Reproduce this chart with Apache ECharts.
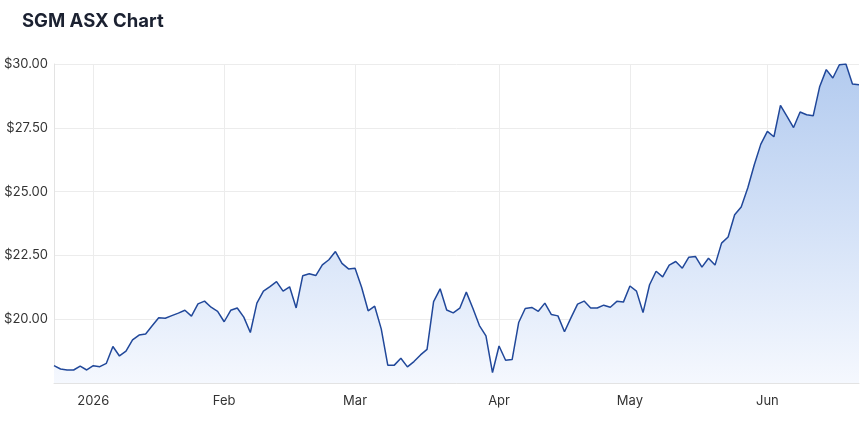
<!DOCTYPE html>
<html>
<head>
<meta charset="utf-8">
<script src="https://cdn.jsdelivr.net/npm/echarts@6/dist/echarts.min.js"></script>
<style>
  html, body { margin:0; padding:0; background:#fff; }
  #chart { width:868px; height:424px; }
</style>
</head>
<body>
<div id="chart"></div>
<script>
// ASX trading days shown on the chart
const dates = [
  '2025-12-22','2025-12-23','2025-12-24','2025-12-29','2025-12-30','2025-12-31',
  '2026-01-02','2026-01-05','2026-01-06','2026-01-07','2026-01-08','2026-01-09','2026-01-12','2026-01-13','2026-01-14','2026-01-15',
  '2026-01-16','2026-01-19','2026-01-20','2026-01-21','2026-01-22','2026-01-23','2026-01-27','2026-01-28','2026-01-29','2026-01-30',
  '2026-02-02','2026-02-03','2026-02-04','2026-02-05','2026-02-06','2026-02-09','2026-02-10','2026-02-11','2026-02-12','2026-02-13',
  '2026-02-16','2026-02-17','2026-02-18','2026-02-19','2026-02-20','2026-02-23','2026-02-24','2026-02-25','2026-02-26','2026-02-27',
  '2026-03-02','2026-03-03','2026-03-04','2026-03-05','2026-03-06','2026-03-09','2026-03-10','2026-03-11','2026-03-12','2026-03-13',
  '2026-03-16','2026-03-17','2026-03-18','2026-03-19','2026-03-20','2026-03-23','2026-03-24','2026-03-25','2026-03-26','2026-03-27',
  '2026-03-30','2026-03-31',
  '2026-04-01','2026-04-02','2026-04-07','2026-04-08','2026-04-09','2026-04-10','2026-04-13','2026-04-14','2026-04-15','2026-04-16',
  '2026-04-17','2026-04-20','2026-04-21','2026-04-22','2026-04-23','2026-04-24','2026-04-27','2026-04-28','2026-04-29','2026-04-30',
  '2026-05-01','2026-05-04','2026-05-05','2026-05-06','2026-05-07','2026-05-08','2026-05-11','2026-05-12','2026-05-13','2026-05-14',
  '2026-05-15','2026-05-18','2026-05-19','2026-05-20','2026-05-21','2026-05-22','2026-05-25','2026-05-26','2026-05-27','2026-05-28',
  '2026-05-29',
  '2026-06-01','2026-06-02','2026-06-03','2026-06-04','2026-06-05','2026-06-09','2026-06-10','2026-06-11','2026-06-12','2026-06-15',
  '2026-06-16','2026-06-17','2026-06-18','2026-06-19','2026-06-22'
];

// closing prices (AUD)
const prices = [
  18.18,18.05,18.01,18.01,18.16,18.01,
  18.18,18.14,18.27,18.93,18.56,18.75,19.19,19.38,19.42,19.74,
  20.06,20.04,20.14,20.24,20.35,20.12,20.60,20.71,20.47,20.31,
  19.90,20.35,20.44,20.08,19.48,20.63,21.10,21.28,21.47,21.10,
  21.27,20.44,21.70,21.78,21.71,22.13,22.33,22.65,22.19,21.97,
  22.00,21.25,20.33,20.51,19.62,18.20,18.20,18.47,18.13,18.34,
  18.60,18.82,20.69,21.19,20.36,20.25,20.43,21.06,20.43,19.75,
  19.35,17.91,
  18.95,18.39,18.42,19.87,20.42,20.46,20.31,20.63,20.18,20.13,
  19.51,20.06,20.59,20.71,20.44,20.44,20.55,20.47,20.70,20.67,
  21.30,21.10,20.26,21.35,21.88,21.66,22.12,22.26,22.00,22.43,
  22.46,22.04,22.39,22.12,22.98,23.22,24.09,24.40,25.14,26.05,
  26.86,
  27.36,27.15,28.38,27.95,27.51,28.12,28.01,27.97,29.12,29.78,
  29.45,29.97,30.00,29.22,29.19
];

const monthNames = ['Jan','Feb','Mar','Apr','May','Jun','Jul','Aug','Sep','Oct','Nov','Dec'];

function isMonthStart(i){
  return i > 0 && dates[i].slice(5,7) !== dates[i-1].slice(5,7);
}
function monthLabel(d){
  const m = Number(d.slice(5,7));
  return m === 1 ? d.slice(0,4) : monthNames[m-1];
}

const chart = echarts.init(document.getElementById('chart'));
chart.setOption({
  animation: false,
  title: {
    text: 'SGM ASX Chart', left: 17, top: 7,
    textStyle: { fontFamily: 'Inter', fontSize: 18.5, fontWeight: 700, color: '#1b2131' }
  },
  grid: { left: 54, right: 9, top: 64, bottom: 41 },
  xAxis: {
    type: 'category', data: dates, boundaryGap: false,
    axisLine: { lineStyle: { color: '#e3e3e3' } },
    axisTick: { show: false },
    axisLabel: {
      interval: (i) => isMonthStart(i),
      formatter: (v) => monthLabel(v),
      fontFamily: 'Inter', fontSize: 13, color: '#333', margin: 12
    },
    splitLine: { show: true, interval: (i) => isMonthStart(i), lineStyle: { color: '#ececec' } }
  },
  yAxis: {
    type: 'value', min: 17.5, max: 30, interval: 2.5,
    axisLine: { show: true, lineStyle: { color: '#e3e3e3' } },
    axisTick: { show: false },
    axisLabel: {
      showMinLabel: false,
      formatter: (v) => '$' + v.toFixed(2),
      fontFamily: 'Inter', fontSize: 13, color: '#333', margin: 6
    },
    splitLine: { lineStyle: { color: '#ececec' } }
  },
  series: [{
    type: 'line', data: prices, symbol: 'none',
    lineStyle: { color: '#21489a', width: 1.5 },
    areaStyle: {
      opacity: 1,
      color: new echarts.graphic.LinearGradient(0, 0, 0, 1, [
        { offset: 0, color: '#b3cbef' },
        { offset: 0.5, color: '#d3e1f7' },
        { offset: 1, color: '#f5f8fe' }
      ])
    }
  }]
});
</script>
</body>
</html>
